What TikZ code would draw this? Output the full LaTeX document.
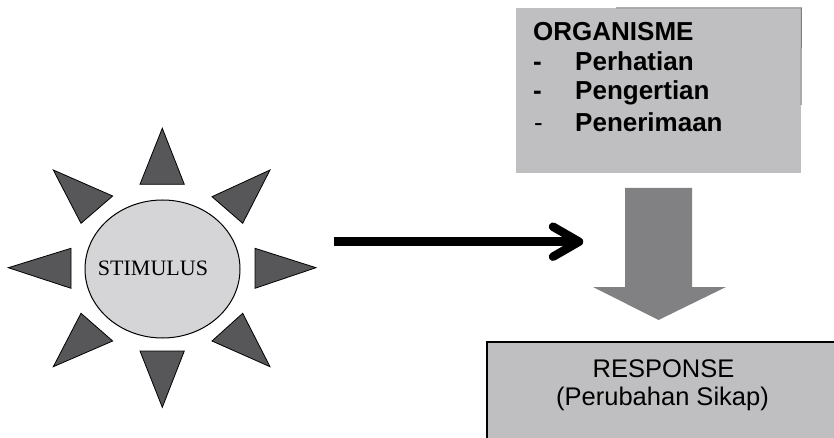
\documentclass[tikz,border=0pt]{standalone}
\usepackage{fontspec}
\setmainfont{Liberation Sans}
\newfontfamily\serifface{Liberation Serif}
\usetikzlibrary{shapes.geometric}
\begin{document}
\begin{tikzpicture}[x=1pt,y=-1pt,
  ray/.style={fill=raygray,draw=black,line width=0.8pt,line join=miter},
  listtext/.style={anchor=base west,inner sep=0pt,font=\fontsize{26}{30}\selectfont\bfseries},
  resptext/.style={anchor=base,inner sep=0pt,font=\fontsize{25.5}{30}\selectfont},
  thickarrow/.style={line width=8.5pt,line cap=round,line join=round}]
\definecolor{raygray}{HTML}{57575A}
\definecolor{discgray}{HTML}{D5D5D7}
\definecolor{boxgray}{HTML}{BFBFC1}
\definecolor{downgray}{HTML}{818184}
\useasboundingbox (0,0) rectangle (834,438);

% stimulus disc with its eight rays
\node[ellipse,draw=black,line width=1pt,fill=discgray,minimum width=155pt,minimum height=138pt,inner sep=0pt]
  (stim) at (162.5,269) {};
\node[inner sep=0pt,anchor=base,font=\serifface\fontsize{22}{26}\selectfont] (stimtext) at (153,275) {STIMULUS};
\draw[ray] (140,184.3) -- (162.3,128.3) -- (184.3,184.3) -- cycle;
\draw[ray] (140,351) -- (162.3,407.3) -- (184.3,351) -- cycle;
\draw[ray] (71,248.3) -- (8.3,267.7) -- (71,288.3) -- cycle;
\draw[ray] (255,248.3) -- (316,267.7) -- (255,288.3) -- cycle;
\draw[ray] (53.3,170) -- (112.7,196) -- (81,223.3) -- cycle;
\draw[ray] (270,170) -- (212,196.7) -- (242.7,223.3) -- cycle;
\draw[ray] (81,313.3) -- (112.7,341) -- (53.3,366.7) -- cycle;
\draw[ray] (242.7,313.3) -- (212,341) -- (270,366.7) -- cycle;

% organism box
\node[rectangle,fill=boxgray,minimum width=285pt,minimum height=165pt,inner sep=0pt,anchor=north west]
  (org) at (516,8) {};
\draw[gray,line width=1pt] (616,8) -- (org.north east) -- (801,105);
\node[listtext] (orgtitle) at (533,41) {ORGANISME};
\node[listtext] (d1) at (533,71) {-};
\node[listtext] (l1) at (575,71) {Perhatian};
\node[listtext] (d2) at (533,100) {-};
\node[listtext] (l2) at (575,100) {Pengertian};
\node[listtext,font=\fontsize{26}{30}\selectfont] (d3) at (534,132) {-};
\node[listtext] (l3) at (575,132) {Penerimaan};

% response box
\node[rectangle,fill=boxgray,inner sep=0pt,anchor=north west,minimum width=347pt,minimum height=96pt]
  (resp) at (487,342) {};
\draw[black,line width=2pt] (resp.south west) -- (resp.north west) -- (resp.north east);
\node[resptext] (resptitle) at (663.5,377) {RESPONSE};
\node[resptext] (respsub) at (662.5,405) {(Perubahan Sikap)};

% stimulus arrow
\coordinate (a1) at (334,241.7);
\coordinate (a2) at (579,241.7);
\draw[line width=8.5pt] (a1) -- (a2);
\draw[thickarrow] (a2) ++(-26,-15) -- (a2) -- ++(-26,15);

% block arrow from organism to response
\fill[downgray] (625,188) -- (692,188) -- (692,287) -- (726,287) -- (658.5,320)
  -- (593,287) -- (625,287) -- cycle;
\end{tikzpicture}
\end{document}
